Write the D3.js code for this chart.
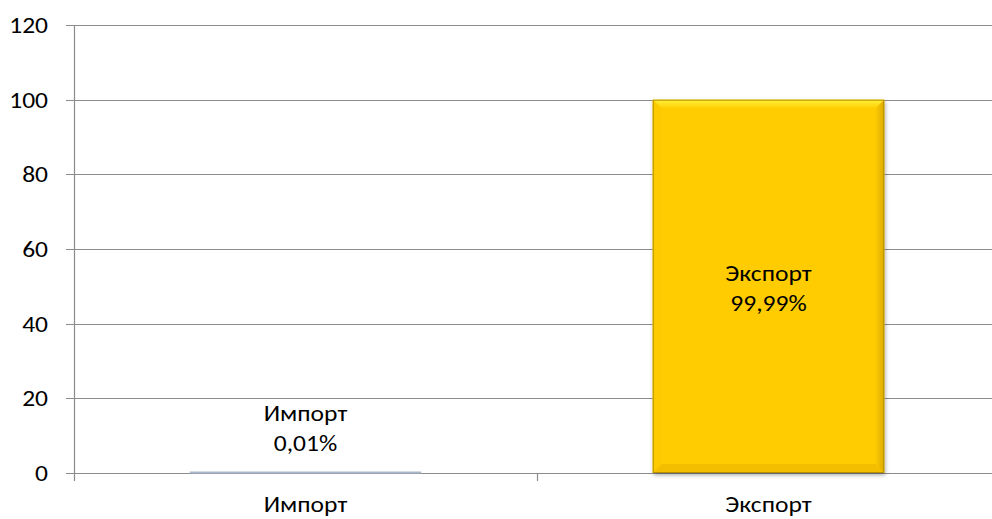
<!DOCTYPE html>
<html>
<head>
<meta charset="utf-8">
<script src="https://cdn.jsdelivr.net/npm/d3@7"></script>
<style>
  body { margin: 0; background: #fff; }
  svg text { font-family: Carlito, Lato, "Open Sans", sans-serif; fill: #000; font-size: 22px; }
</style>
</head>
<body>
<div id="container"></div>
<script>
// data
const categories = ["Импорт", "Экспорт"];
const values = [0.01, 99.99];
const valueLabels = ["0,01%", "99,99%"];
const yTicks = [0, 20, 40, 60, 80, 100, 120];

const w = 992, h = 519;
const m = { top: 25, right: -8, bottom: 46, left: 74 };
const sx = 1.16; // the source text is a little wider than the font

const svg = d3.select("#container").append("svg")
  .attr("width", w)
  .attr("height", h);

const label = (g, tx, ty, anchor, str) => g.append("text")
  .attr("transform", `translate(${tx},${ty}) scale(${sx},1)`)
  .attr("text-anchor", anchor)
  .text(str);

const defs = svg.append("defs");
const shadow = defs.append("filter").attr("id", "shadow")
  .attr("x", "-10%").attr("y", "-10%").attr("width", "130%").attr("height", "130%");
shadow.append("feDropShadow").attr("dx", 1).attr("dy", 2).attr("stdDeviation", 2)
  .attr("flood-color", "#000").attr("flood-opacity", 0.35);

const topGrad = defs.append("linearGradient").attr("id", "topGrad")
  .attr("x1", 0).attr("y1", 0).attr("x2", 0).attr("y2", 1);
topGrad.append("stop").attr("offset", 0).attr("stop-color", "#fff23a");
topGrad.append("stop").attr("offset", 1).attr("stop-color", "#ffcc00");
const rightGrad = defs.append("linearGradient").attr("id", "rightGrad")
  .attr("x1", 0).attr("y1", 0).attr("x2", 1).attr("y2", 0);
rightGrad.append("stop").attr("offset", 0).attr("stop-color", "#fccb04");
rightGrad.append("stop").attr("offset", 1).attr("stop-color", "#dcaa00");

const x = d3.scaleBand()
  .domain(categories)
  .range([m.left, w - m.right])
  .paddingInner(0.5)
  .paddingOuter(0.25);

const y = d3.scaleLinear()
  .domain([0, 120])
  .range([h - m.bottom, m.top]);

// gridlines
svg.append("g")
  .selectAll("line")
  .data(yTicks)
  .enter()
  .append("line")
  .attr("x1", m.left - 8)
  .attr("x2", w)
  .attr("y1", d => Math.round(y(d)) + 0.5)
  .attr("y2", d => Math.round(y(d)) + 0.5)
  .attr("stroke", "#8c8c8c")
  .attr("stroke-width", 1.2);

// y axis line
svg.append("line")
  .attr("x1", m.left + 0.5).attr("x2", m.left + 0.5)
  .attr("y1", y(120)).attr("y2", y(0) + 8)
  .attr("stroke", "#8c8c8c").attr("stroke-width", 1.2);

// category separator ticks (between bands)
svg.append("g")
  .selectAll("line")
  .data(categories.slice(1))
  .enter()
  .append("line")
  .attr("x1", d => Math.round(x(d) - x.step() * x.paddingInner() / 2) + 0.5)
  .attr("x2", d => Math.round(x(d) - x.step() * x.paddingInner() / 2) + 0.5)
  .attr("y1", y(0)).attr("y2", y(0) + 8)
  .attr("stroke", "#8c8c8c").attr("stroke-width", 1.2);

// y tick labels
const yLab = svg.append("g");
yTicks.forEach(d => label(yLab, 48, y(d) + 8, "end", d));

// bars
const bars = svg.append("g")
  .selectAll("g")
  .data(categories)
  .enter()
  .append("g");

bars.each(function (d, i) {
  const g = d3.select(this);
  const x0 = x(d), bw = x.bandwidth();
  const y0 = y(values[i]), bh = y(0) - y(values[i]);
  if (bh < 2) {
    g.append("rect")
      .attr("x", x0).attr("y", y(0) - 1.5)
      .attr("width", bw).attr("height", 2)
      .attr("fill", "#a9b8cc");
    return;
  }
  g.append("rect")
    .attr("x", x0).attr("y", y0)
    .attr("width", bw).attr("height", bh)
    .attr("fill", "#fecc06")
    .attr("filter", "url(#shadow)");
  // bevel edges
  const b = 9;
  g.append("polygon")
    .attr("points", `${x0},${y0} ${x0 + bw},${y0} ${x0 + bw - b},${y0 + b} ${x0 + b},${y0 + b}`)
    .attr("fill", "url(#topGrad)");
  g.append("polygon")
    .attr("points", `${x0 + bw},${y0} ${x0 + bw},${y0 + bh} ${x0 + bw - b},${y0 + bh - b} ${x0 + bw - b},${y0 + b}`)
    .attr("fill", "url(#rightGrad)");
  g.append("polygon")
    .attr("points", `${x0},${y0 + bh} ${x0 + bw},${y0 + bh} ${x0 + bw - b},${y0 + bh - b} ${x0 + b},${y0 + bh - b}`)
    .attr("fill", "#f3bd00");
  g.append("polygon")
    .attr("points", `${x0},${y0} ${x0 + b},${y0 + b} ${x0 + b},${y0 + bh - b} ${x0},${y0 + bh}`)
    .attr("fill", "#fdc900");
  g.append("rect")
    .attr("x", x0 + 0.5).attr("y", y0 + 0.5)
    .attr("width", bw - 1).attr("height", bh - 1)
    .attr("fill", "none")
    .attr("stroke", "#b58f00").attr("stroke-width", 1);
});

// data labels (baselines of the two lines)
bars.each(function (d, i) {
  const g = d3.select(this);
  const cx = x(d) + x.bandwidth() / 2;
  const bh = y(0) - y(values[i]);
  const base = bh > 60 ? y(values[i] / 2) - 5 : y(values[i]) - 52;
  label(g, cx, base, "middle", d);
  label(g, cx, base + 30, "middle", valueLabels[i]);
});

// category labels
const xLab = svg.append("g");
categories.forEach(d => label(xLab, x(d) + x.bandwidth() / 2, 512, "middle", d));
</script>
</body>
</html>
